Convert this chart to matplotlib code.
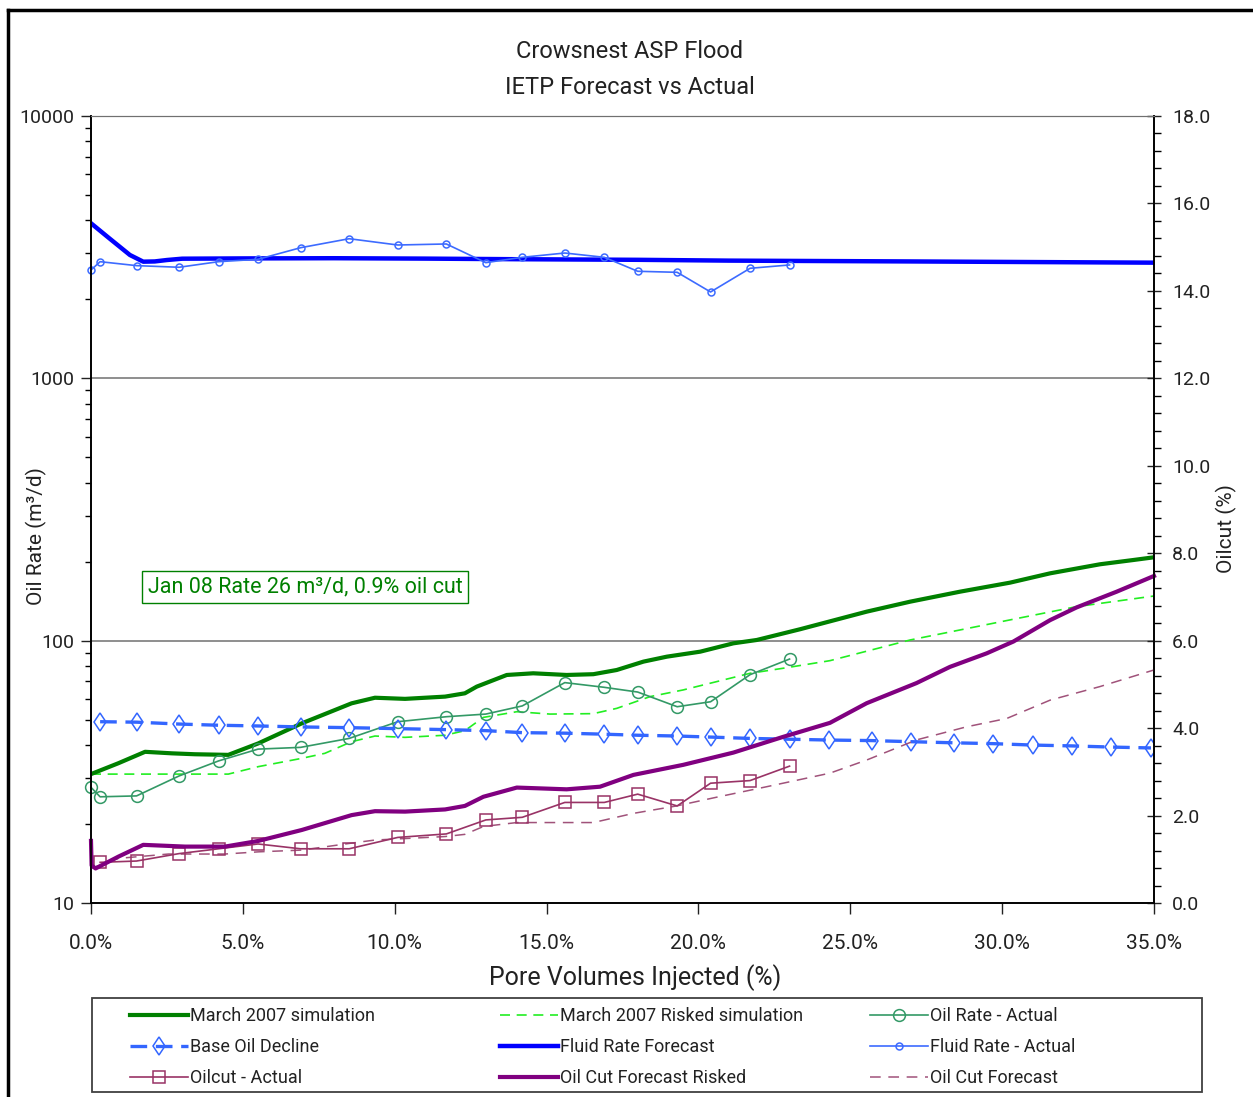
import numpy as np
import matplotlib
matplotlib.use("Agg")
import matplotlib.pyplot as plt
from matplotlib.lines import Line2D
from matplotlib.patches import Rectangle
from matplotlib.ticker import MultipleLocator, NullFormatter, LogLocator

plt.rcParams['font.family'] = ['Roboto', 'DejaVu Sans']

# ---- data ----
pv_actual = [0.0, 0.3, 1.5, 2.9, 4.2, 5.5, 6.9, 8.5, 10.1, 11.7, 13.0, 14.2, 15.6,
             16.9, 18.0, 19.3, 20.4, 21.7, 23.0]
oil_rate_actual = [27.6, 25.4, 25.6, 30.5, 34.8, 38.6, 39.2, 42.4, 49.1, 51.3, 52.5,
                   56.4, 69.2, 66.4, 63.7, 56.0, 58.5, 74.2, 85.1]
fluid_rate_actual = [2588, 2784, 2689, 2651, 2784, 2843, 3147, 3406, 3223, 3252, 2760,
                     2893, 3004, 2893, 2559, 2536, 2134, 2627, 2705]
pv_oilcut_actual = pv_actual[1:]
oilcut_actual = [0.93, 0.96, 1.13, 1.24, 1.35, 1.24, 1.24, 1.50, 1.58, 1.90, 1.96,
                 2.30, 2.30, 2.49, 2.22, 2.74, 2.80, 3.13]

pv_base = [0.3, 1.5, 2.9, 4.2, 5.5, 6.9, 8.5, 10.1, 11.7, 13.0, 14.2, 15.6, 16.9, 18.0,
           19.3, 20.4, 21.7, 23.0, 24.3, 25.7, 27.0, 28.4, 29.7, 31.0, 32.3, 33.6, 34.9]
base_decline = [49.1, 48.9, 48.1, 47.6, 47.3, 46.9, 46.6, 46.2, 45.8, 45.4, 44.6, 44.4,
                44.0, 43.6, 43.3, 42.9, 42.4, 42.1, 41.8, 41.6, 41.2, 40.8, 40.5, 40.0,
                39.7, 39.3, 39.0]

pv_fluid_fc = [0, 0.6, 1.28, 1.72, 2.1, 2.5, 3.0, 5, 8, 11, 14, 18, 21, 27, 31, 35]
fluid_fc = [3900, 3420, 2953, 2784, 2790, 2825, 2858, 2865, 2870, 2860, 2845, 2830,
            2810, 2790, 2775, 2760]

pv_sim = [0, 0.9, 1.78, 2.66, 3.42, 4.52, 5.51, 6.94, 8.58, 9.35, 10.34, 11.66, 12.31,
          12.70, 13.69, 14.56, 15.66, 16.54, 17.31, 18.19, 18.96, 20.06, 21.15, 21.92,
          23.34, 25.54, 26.97, 28.61, 30.26, 31.58, 33.22, 34.32, 35]
sim_2007 = [31.0, 34.1, 37.7, 37.2, 36.9, 36.7, 40.6, 48.4, 57.7, 60.6, 60.0, 61.2, 63.0,
            66.8, 74.0, 75.1, 74.0, 74.5, 77.3, 83.2, 86.9, 90.8, 97.7, 100.6, 110.5,
            129, 140.8, 153.7, 166.4, 180.6, 195.5, 203, 207.9]

pv_risked = [0, 4.52, 5.51, 6.94, 7.70, 8.58, 9.35, 10.34, 11.66, 12.31, 12.92, 14.02,
             15.11, 16.54, 17.31, 18.41, 19.50, 20.60, 21.70, 22.79, 24.33, 26.97,
             30.26, 32.45, 35]
risked_2007 = [31.0, 31.0, 33.1, 35.6, 37.2, 41.2, 43.3, 42.8, 43.6, 45.4, 51.0, 53.6,
               52.5, 52.7, 55.2, 61.2, 64.9, 69.8, 75.1, 78.5, 83.9, 100.6, 120, 134.8,
               148]

pv_oc_risked = [0.0, 0.02, 0.15, 0.90, 1.72, 3.10, 4.41, 5.51, 6.94, 8.58, 9.35, 10.34,
                11.66, 12.31, 12.92, 14.02, 15.66, 16.76, 17.86, 19.50, 21.15, 22.79,
                24.33, 25.54, 27.18, 28.28, 29.49, 30.37, 31.58, 32.45, 33.77, 35]
oc_risked = [1.42, 0.86, 0.79, 1.06, 1.33, 1.29, 1.29, 1.42, 1.67, 2.01, 2.10, 2.09,
             2.14, 2.22, 2.43, 2.64, 2.60, 2.66, 2.93, 3.16, 3.44, 3.80, 4.12, 4.57,
             5.03, 5.40, 5.71, 5.98, 6.47, 6.76, 7.12, 7.48]

pv_oc_fc = [0, 0.90, 2.55, 4.41, 5.51, 6.94, 8.58, 9.35, 11.66, 12.31, 12.92, 14.02,
            16.54, 17.86, 19.28, 20.60, 22.25, 24.33, 25.54, 27.18, 28.83, 30.15, 31.58,
            33.22, 35]
oc_fc = [0.79, 1.02, 1.12, 1.12, 1.17, 1.21, 1.37, 1.44, 1.52, 1.57, 1.75, 1.84, 1.84,
         2.05, 2.22, 2.42, 2.66, 2.97, 3.27, 3.73, 4.03, 4.22, 4.64, 4.95, 5.33]

W, H = 1253, 1097
TXT = '#222222'
fig = plt.figure(figsize=(W / 100, H / 100), dpi=100)
ax = fig.add_axes([91 / W, 1 - 903 / H, 1063 / W, 787 / H])
ax2 = ax.twinx()

# left axis (log)
ax.set_yscale('log')
ax.set_ylim(10, 10000)
ax.set_xlim(0, 35)
ax.yaxis.set_minor_locator(LogLocator(base=10, subs=np.arange(2, 10), numticks=10))
ax.yaxis.set_minor_formatter(NullFormatter())
ax.set_yticks([10, 100, 1000, 10000])
ax.set_yticklabels(['10', '100', '1000', '10000'])
ax.set_xticks(range(0, 36, 5))
ax.set_xticklabels([f"{v:.1f}%" for v in range(0, 36, 5)])
ax.tick_params(axis='x', direction='out', length=8, width=1, pad=14, labelsize=15,
               colors=TXT)
ax.tick_params(axis='y', which='major', direction='out', length=7, width=1, pad=5,
               labelsize=14, colors=TXT)
ax.tick_params(axis='y', which='minor', direction='out', length=4, width=1)
for y in (100, 1000):
    ax.axhline(y, color='#707070', lw=1.1, zorder=0.5)

# right axis (oil cut)
ax2.set_ylim(0, 18)
ax2.yaxis.set_major_locator(MultipleLocator(2))
ax2.yaxis.set_minor_locator(MultipleLocator(0.4))
ax2.yaxis.set_major_formatter(plt.FuncFormatter(lambda v, p: f"{v:.1f}"))
ax2.tick_params(axis='y', which='major', direction='inout', length=10, width=1, pad=8,
                labelsize=14, colors=TXT)
ax2.tick_params(axis='y', which='minor', direction='out', length=5, width=1)

for a in (ax, ax2):
    a.spines['top'].set_color('#707070')
    for s in ('left', 'right', 'bottom'):
        a.spines[s].set_color('black')
        a.spines[s].set_linewidth(1.2)

# series on the rate axis
h_risk, = ax.plot(pv_risked, risked_2007, color='#22EE22', lw=1.2, dashes=(6, 4),
                  label='March 2007 Risked simulation')
h_sim, = ax.plot(pv_sim, sim_2007, color='#008000', lw=3, label='March 2007 simulation')
h_oilact, = ax.plot(pv_actual, oil_rate_actual, color='#339966', lw=1.2, marker='o',
                    ms=8.5, mfc='none', mec='#339966', mew=1.1, label='Oil Rate - Actual',
                    clip_on=False)
h_base, = ax.plot(pv_base, base_decline, color='#3366FF', lw=2.4, dashes=(5, 2.6),
                  marker='d', ms=9.5, mfc='none', mec='#3366FF', mew=1.1,
                  label='Base Oil Decline')
h_ffc, = ax.plot(pv_fluid_fc, fluid_fc, color='#0000FF', lw=3.2, label='Fluid Rate Forecast')
h_fact, = ax.plot(pv_actual, fluid_rate_actual, color='#3D6BFF', lw=1.2, marker='o',
                  ms=5, mfc='none', mec='#3D6BFF', mew=1.1, label='Fluid Rate - Actual',
                  clip_on=False)

# series on the oil-cut axis
h_ocfc, = ax2.plot(pv_oc_fc, oc_fc, color='#A0527A', lw=1.1, dashes=(7, 5),
                   label='Oil Cut Forecast')
h_ocact, = ax2.plot(pv_oilcut_actual, oilcut_actual, color='#993366', lw=1.2,
                    marker='s', ms=8, mfc='none', mec='#993366', mew=1.1,
                    label='Oilcut - Actual')
h_ocr, = ax2.plot(pv_oc_risked, oc_risked, color='#800080', lw=3,
                  label='Oil Cut Forecast Risked', clip_on=False)

# text
fig.text(630 / W, 1 - 52 / H, 'Crowsnest ASP Flood', ha='center', va='center',
         fontsize=17, color=TXT)
fig.text(630 / W, 1 - 87 / H, 'IETP Forecast vs Actual', ha='center', va='center',
         fontsize=17, color=TXT)
fig.text(635 / W, 1 - 978 / H, 'Pore Volumes Injected (%)', ha='center', va='center',
         fontsize=18, color=TXT)
fig.text(36 / W, 1 - 536 / H, 'Oil Rate (m³/d)', ha='center', va='center',
         rotation=90, fontsize=15, color=TXT)
fig.text(1226 / W, 1 - 529 / H, 'Oilcut (%)', ha='center', va='center',
         rotation=90, fontsize=15, color=TXT)
fig.text(305 / W, 1 - 587 / H, 'Jan 08 Rate 26 m³/d, 0.9% oil cut', ha='center',
         va='center', fontsize=15.5, color='#008000',
         bbox=dict(boxstyle='square,pad=0.25', fc='white', ec='#008000', lw=1))

# outer frame
fig.add_artist(Line2D([8 / W, 8 / W], [0, 1 - 10 / H], color='black', lw=2.5))
fig.add_artist(Line2D([8 / W, 1], [1 - 10 / H, 1 - 10 / H], color='black', lw=2.5))

# legend: frame + three columns
fig.add_artist(Rectangle((92 / W, 1 - 1092 / H), 1110 / W, 94 / H, transform=fig.transFigure,
                         fill=False, ec='#404040', lw=1.3))
columns = [
    ([h_sim, h_base, h_ocact], 130),
    ([h_risk, h_ffc, h_ocr], 500),
    ([h_oilact, h_fact, h_ocfc], 870),
]
for handles, x0 in columns:
    fig.legend(handles=handles, labels=[h.get_label() for h in handles],
               loc='upper left', bbox_to_anchor=(x0 / W, 1 - 1007 / H),
               frameon=False, fontsize=13, handlelength=3.2, handletextpad=0.12,
               borderpad=0, borderaxespad=0, labelspacing=0.72, labelcolor=TXT)

fig.savefig('out.png', dpi=100)
